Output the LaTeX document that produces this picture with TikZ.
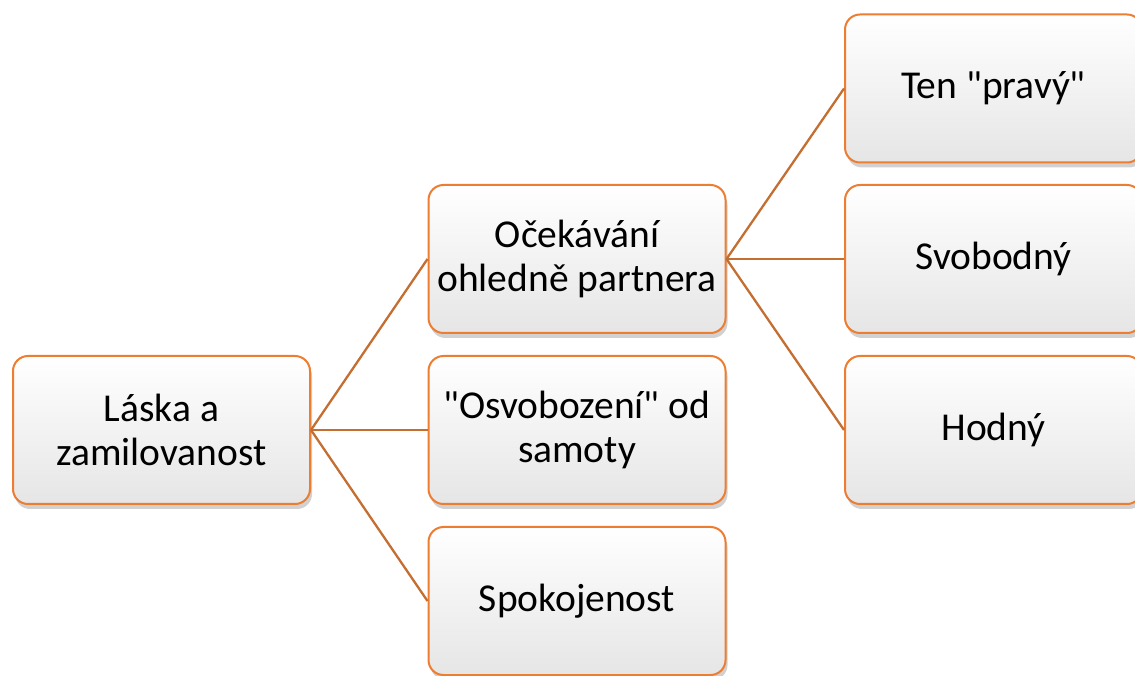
\documentclass[tikz,border=0pt]{standalone}
\usepackage{fontspec}
\setmainfont{Carlito}
\usetikzlibrary{shadows}
\definecolor{boxline}{RGB}{237,125,49}
\definecolor{conn}{RGB}{197,110,50}
\newcommand\sq{\XeTeXglyph\XeTeXcharglyph"22\relax}
\tikzset{
  box/.style={draw=boxline, line width=2pt, rounded corners=15pt,
    minimum width=297pt, minimum height=148pt, inner sep=0pt,
    top color=white, bottom color=black!10, align=center,
    font=\fontsize{39.5}{44}\selectfont,
    drop shadow={shadow xshift=2pt, shadow yshift=-5pt, opacity=0.3, fill=black!60}},
  link/.style={draw=conn, line width=2.3pt}
}
\begin{document}
\begin{tikzpicture}[x=1pt,y=1pt]
\useasboundingbox (0,0) rectangle (1135,675);
\node[box] (root) at (161.5,245) {Láska a\\zamilovanost};
\node[box] (m1) at (577,416) {Očekávání\\ohledně partnera};
\node[box] (m2) at (577,245) {\sq Osvobození\sq{} od\\samoty};
\node[box] (m3) at (577,74) {Spokojenost};
\node[box] (r1) at (993.5,586.5) {Ten \sq pravý\sq};
\node[box] (r2) at (993.5,416) {Svobodný};
\node[box] (r3) at (993.5,245) {Hodný};
\draw[link] (root.east) -- (m1.west);
\draw[link] (root.east) -- (m2.west);
\draw[link] (root.east) -- (m3.west);
\draw[link] (m1.east) -- (r1.west);
\draw[link] (m1.east) -- (r2.west);
\draw[link] (m1.east) -- (r3.west);
\end{tikzpicture}
\end{document}
